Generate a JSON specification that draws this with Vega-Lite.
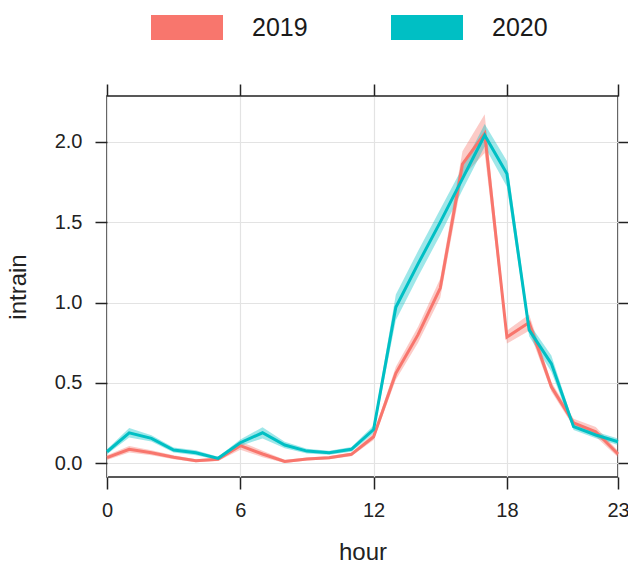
{
  "$schema": "https://vega.github.io/schema/vega-lite/v6.json",
  "autosize": {"type": "none"},
  "padding": {"left": 107, "top": 96, "right": 10, "bottom": 86},
  "width": 511,
  "height": 381,
  "background": "white",
  "config": {
    "font": "Liberation Sans",
    "view": {"stroke": "#222222", "strokeWidth": 1.5},
    "axis": {
      "domain": false,
      "tickColor": "#222222",
      "tickWidth": 1.5,
      "tickSize": 12,
      "labelFlush": false,
      "labelOverlap": false,
      "labelFont": "Liberation Sans",
      "labelFontSize": 20,
      "labelColor": "#222222",
      "titleFont": "Liberation Sans",
      "titleFontSize": 24,
      "titleFontWeight": "normal",
      "titleColor": "#222222",
      "gridColor": "#e3e3e3",
      "gridWidth": 1.2
    }
  },
  "data": {"values": [
    {"hour": 0, "year": "2019", "intrain": 0.035, "lo": 0.020, "hi": 0.050},
    {"hour": 1, "year": "2019", "intrain": 0.087, "lo": 0.067, "hi": 0.107},
    {"hour": 2, "year": "2019", "intrain": 0.066, "lo": 0.051, "hi": 0.081},
    {"hour": 3, "year": "2019", "intrain": 0.038, "lo": 0.026, "hi": 0.050},
    {"hour": 4, "year": "2019", "intrain": 0.016, "lo": 0.006, "hi": 0.026},
    {"hour": 5, "year": "2019", "intrain": 0.025, "lo": 0.015, "hi": 0.035},
    {"hour": 6, "year": "2019", "intrain": 0.110, "lo": 0.085, "hi": 0.135},
    {"hour": 7, "year": "2019", "intrain": 0.058, "lo": 0.038, "hi": 0.078},
    {"hour": 8, "year": "2019", "intrain": 0.012, "lo": 0.002, "hi": 0.022},
    {"hour": 9, "year": "2019", "intrain": 0.027, "lo": 0.017, "hi": 0.037},
    {"hour": 10, "year": "2019", "intrain": 0.035, "lo": 0.025, "hi": 0.045},
    {"hour": 11, "year": "2019", "intrain": 0.056, "lo": 0.044, "hi": 0.068},
    {"hour": 12, "year": "2019", "intrain": 0.165, "lo": 0.145, "hi": 0.185},
    {"hour": 13, "year": "2019", "intrain": 0.560, "lo": 0.520, "hi": 0.600},
    {"hour": 14, "year": "2019", "intrain": 0.800, "lo": 0.750, "hi": 0.850},
    {"hour": 15, "year": "2019", "intrain": 1.090, "lo": 1.030, "hi": 1.150},
    {"hour": 16, "year": "2019", "intrain": 1.860, "lo": 1.780, "hi": 1.940},
    {"hour": 17, "year": "2019", "intrain": 2.050, "lo": 1.930, "hi": 2.170},
    {"hour": 18, "year": "2019", "intrain": 0.785, "lo": 0.745, "hi": 0.825},
    {"hour": 19, "year": "2019", "intrain": 0.875, "lo": 0.825, "hi": 0.925},
    {"hour": 20, "year": "2019", "intrain": 0.476, "lo": 0.446, "hi": 0.506},
    {"hour": 21, "year": "2019", "intrain": 0.252, "lo": 0.227, "hi": 0.277},
    {"hour": 22, "year": "2019", "intrain": 0.196, "lo": 0.166, "hi": 0.226},
    {"hour": 23, "year": "2019", "intrain": 0.058, "lo": 0.038, "hi": 0.078},
    {"hour": 0, "year": "2020", "intrain": 0.072, "lo": 0.057, "hi": 0.087},
    {"hour": 1, "year": "2020", "intrain": 0.190, "lo": 0.160, "hi": 0.220},
    {"hour": 2, "year": "2020", "intrain": 0.155, "lo": 0.135, "hi": 0.175},
    {"hour": 3, "year": "2020", "intrain": 0.083, "lo": 0.068, "hi": 0.098},
    {"hour": 4, "year": "2020", "intrain": 0.066, "lo": 0.051, "hi": 0.081},
    {"hour": 5, "year": "2020", "intrain": 0.031, "lo": 0.021, "hi": 0.041},
    {"hour": 6, "year": "2020", "intrain": 0.128, "lo": 0.108, "hi": 0.148},
    {"hour": 7, "year": "2020", "intrain": 0.190, "lo": 0.155, "hi": 0.225},
    {"hour": 8, "year": "2020", "intrain": 0.114, "lo": 0.094, "hi": 0.134},
    {"hour": 9, "year": "2020", "intrain": 0.076, "lo": 0.061, "hi": 0.091},
    {"hour": 10, "year": "2020", "intrain": 0.066, "lo": 0.054, "hi": 0.078},
    {"hour": 11, "year": "2020", "intrain": 0.087, "lo": 0.072, "hi": 0.102},
    {"hour": 12, "year": "2020", "intrain": 0.210, "lo": 0.185, "hi": 0.235},
    {"hour": 13, "year": "2020", "intrain": 0.970, "lo": 0.890, "hi": 1.050},
    {"hour": 14, "year": "2020", "intrain": 1.240, "lo": 1.160, "hi": 1.320},
    {"hour": 15, "year": "2020", "intrain": 1.500, "lo": 1.420, "hi": 1.580},
    {"hour": 16, "year": "2020", "intrain": 1.770, "lo": 1.700, "hi": 1.840},
    {"hour": 17, "year": "2020", "intrain": 2.040, "lo": 1.970, "hi": 2.110},
    {"hour": 18, "year": "2020", "intrain": 1.800, "lo": 1.720, "hi": 1.880},
    {"hour": 19, "year": "2020", "intrain": 0.830, "lo": 0.790, "hi": 0.870},
    {"hour": 20, "year": "2020", "intrain": 0.620, "lo": 0.570, "hi": 0.670},
    {"hour": 21, "year": "2020", "intrain": 0.228, "lo": 0.208, "hi": 0.248},
    {"hour": 22, "year": "2020", "intrain": 0.176, "lo": 0.156, "hi": 0.196},
    {"hour": 23, "year": "2020", "intrain": 0.134, "lo": 0.114, "hi": 0.154}
  ]},
  "resolve": {"axis": {"x": "independent", "y": "independent"}},
  "layer": [
    {
      "mark": {"type": "area", "opacity": 0.38},
      "encoding": {
        "x": {"field": "hour", "type": "quantitative",
          "scale": {"domain": [0, 23], "nice": false, "zero": false},
          "axis": {"orient": "bottom", "values": [0, 6, 12, 18, 23], "grid": true, "title": "hour", "labelPadding": 11, "titlePadding": 20}},
        "y": {"field": "lo", "type": "quantitative",
          "scale": {"domain": [-0.085, 2.284], "nice": false, "zero": false},
          "axis": {"orient": "left", "values": [0, 0.5, 1, 1.5, 2], "format": ".1f", "grid": true, "title": "intrain", "labelPadding": 13, "titlePadding": 24}},
        "y2": {"field": "hi"},
        "color": {"field": "year", "type": "nominal",
          "scale": {"domain": ["2019", "2020"], "range": ["#F8766D", "#00BFC4"]},
          "legend": {
            "title": null,
            "orient": "none",
            "direction": "horizontal",
            "legendX": 44,
            "legendY": -104.5,
            "symbolType": "M-1,-0.347H1V0.347H-1Z",
            "symbolSize": 5184,
            "symbolOpacity": 1,
            "symbolStrokeWidth": 0,
            "labelFontSize": 25,
            "labelColor": "#1a1a1a",
            "labelOffset": 29,
            "columnPadding": 83,
            "encode": {"symbols": {"update": {"fill": {"scale": "color", "field": "value"}, "opacity": {"value": 1}, "strokeWidth": {"value": 0}}}}
          }}
      }
    },
    {
      "mark": {"type": "line", "strokeWidth": 3},
      "encoding": {
        "x": {"field": "hour", "type": "quantitative",
          "axis": {"orient": "top", "values": [0, 6, 12, 18, 23], "grid": false, "labels": false, "title": null}},
        "y": {"field": "intrain", "type": "quantitative",
          "axis": {"orient": "right", "values": [0, 0.5, 1, 1.5, 2], "grid": false, "labels": false, "title": null}},
        "color": {"field": "year", "type": "nominal"}
      }
    }
  ]
}
